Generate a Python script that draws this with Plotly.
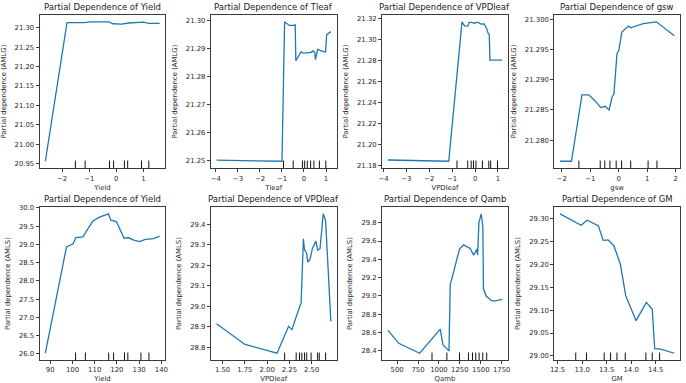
import plotly.graph_objects as go

# ---------------- data ----------------
features = ["Yield", "Tleaf", "VPDleaf", "gsw", "Yield", "VPDleaf", "Qamb", "GM"]
targets = ["AMLG", "AMLG", "AMLG", "AMLG", "AMLS", "AMLS", "AMLS", "AMLS"]

yield_g_x = [-2.62, -1.82, -1.2, -0.95, -0.28, -0.12, 0.2, 0.45, 1.0, 1.2, 1.6]
yield_g_y = [20.956, 21.313, 21.313, 21.315, 21.315, 21.310, 21.309, 21.312, 21.314, 21.311, 21.311]
yield_g_dec = [-1.51, -1.15, -0.25, -0.10, 0.30, 0.42, 0.93, 1.20]

tleaf_x = [-3.97, -1.0, -0.88, -0.67, -0.45, -0.40, -0.37, -0.13, -0.04, 0.33, 0.40, 0.49, 0.52, 0.62, 0.92, 0.98, 1.03, 1.22]
tleaf_y = [21.2500, 21.2496, 21.2994, 21.2981, 21.2981, 21.2985, 21.2855, 21.2887, 21.2882, 21.2885, 21.2890,
           21.2885, 21.2859, 21.2896, 21.2887, 21.2887, 21.2948, 21.2959]
tleaf_dec = [-0.93, -0.49, -0.07, 0.03, 0.15, 0.30, 0.45, 0.70, 0.99]

vpd_g_x = [-3.81, -1.15, -0.57, -0.46, -0.32, -0.26, -0.14, -0.03, 0.11, 0.26, 0.40, 0.50, 0.57, 0.62, 0.65, 1.18]
vpd_g_y = [21.1853, 21.1841, 21.3166, 21.3128, 21.3125, 21.3160, 21.3160, 21.3153, 21.3163, 21.3144, 21.3147,
           21.3106, 21.3059, 21.3044, 21.2803, 21.2803]
vpd_g_dec = [-0.79, -0.32, -0.17, -0.07, 0.04, 0.32, 0.60, 0.68, 0.98]

gsw_x = [-2.06, -1.66, -1.29, -1.05, -0.83, -0.63, -0.48, -0.34, -0.23, -0.17, -0.06, 0.0, 0.11, 0.34, 0.42, 0.86, 1.32, 1.95]
gsw_y = [21.2765, 21.2765, 21.2875, 21.2875, 21.2865, 21.2854, 21.2856, 21.2850, 21.2872, 21.2876, 21.2944,
         21.2948, 21.2979, 21.2989, 21.2986, 21.2993, 21.2996, 21.2973]
gsw_dec = [-1.40, -0.65, -0.49, -0.31, -0.09, 0.10, 0.42, 1.03, 1.34]

yield_s_x = [87.8, 97.3, 100.3, 101.5, 104.7, 109.1, 112.1, 116.2, 117.3, 118.0, 119.8, 123.2, 125.0, 127.6,
             130.1, 132.8, 136.5, 139.2]
yield_s_y = [26.02, 28.93, 29.02, 29.19, 29.21, 29.64, 29.75, 29.84, 29.66, 29.66, 29.62, 29.17, 29.19, 29.12,
             29.08, 29.14, 29.16, 29.23]
yield_s_dec = [101.4, 105.8, 116.3, 118.5, 123.4, 124.9, 130.8, 134.4]

vpd_s_x = [1.433, 1.752, 2.111, 2.241, 2.278, 2.333, 2.344, 2.370, 2.381, 2.407, 2.419, 2.444, 2.456, 2.481,
           2.507, 2.548, 2.567, 2.593, 2.630, 2.656, 2.715]
vpd_s_y = [28.915, 28.814, 28.771, 28.902, 28.886, 28.955, 28.979, 29.004, 29.012, 29.328, 29.276, 29.257,
           29.215, 29.228, 29.280, 29.317, 29.273, 29.280, 29.450, 29.418, 28.926]
vpd_s_dec = [2.196, 2.326, 2.363, 2.389, 2.419, 2.444, 2.493, 2.567, 2.585, 2.656]

qamb_x = [389, 520, 770, 1016, 1048, 1120, 1135, 1246, 1294, 1373, 1415, 1455, 1462, 1478, 1505, 1525, 1532,
          1565, 1625, 1665, 1755]
qamb_y = [28.625, 28.480, 28.371, 28.635, 28.462, 28.397, 29.120, 29.511, 29.558, 29.518, 29.446, 29.511,
          29.446, 29.80, 29.898, 29.757, 29.077, 28.997, 28.950, 28.943, 28.961]
qamb_dec = [917, 1095, 1246, 1353, 1401, 1440, 1480, 1524, 1571]

gm_x = [12.55, 12.98, 13.10, 13.33, 13.43, 13.53, 13.65, 13.78, 13.89, 14.10, 14.31, 14.43, 14.48, 14.60, 14.88]
gm_y = [29.310, 29.285, 29.296, 29.284, 29.252, 29.253, 29.240, 29.200, 29.131, 29.077, 29.117, 29.102,
        29.016, 29.015, 29.006]
gm_dec = [12.87, 13.09, 13.45, 13.58, 13.71, 13.88, 14.30, 14.43, 14.58]

# tick values
x_ticks = [[-2, -1, 0, 1], [-4, -3, -2, -1, 0, 1], [-4, -3, -2, -1, 0, 1], [-2, -1, 0, 1, 2],
           [90, 100, 110, 120, 130, 140], [1.50, 1.75, 2.00, 2.25, 2.50], [500, 750, 1000, 1250, 1500, 1750],
           [12.5, 13.0, 13.5, 14.0, 14.5]]
x_fmt = ["d", "d", "d", "d", "d", ".2f", "d", ".1f"]
y_ticks = [[20.95, 21.00, 21.05, 21.10, 21.15, 21.20, 21.25, 21.30],
           [21.25, 21.26, 21.27, 21.28, 21.29, 21.30],
           [21.18, 21.20, 21.22, 21.24, 21.26, 21.28, 21.30, 21.32],
           [21.280, 21.285, 21.290, 21.295, 21.300],
           [26.0, 26.5, 27.0, 27.5, 28.0, 28.5, 29.0, 29.5, 30.0],
           [28.8, 28.9, 29.0, 29.1, 29.2, 29.3, 29.4],
           [28.4, 28.6, 28.8, 29.0, 29.2, 29.4, 29.6, 29.8],
           [29.00, 29.05, 29.10, 29.15, 29.20, 29.25, 29.30]]
y_fmt = [".2f", ".2f", ".2f", ".3f", ".1f", ".1f", ".1f", ".2f"]

series = [(yield_g_x, yield_g_y, yield_g_dec), (tleaf_x, tleaf_y, tleaf_dec), (vpd_g_x, vpd_g_y, vpd_g_dec),
          (gsw_x, gsw_y, gsw_dec), (yield_s_x, yield_s_y, yield_s_dec), (vpd_s_x, vpd_s_y, vpd_s_dec),
          (qamb_x, qamb_y, qamb_dec), (gm_x, gm_y, gm_dec)]

# ---------------- layout ----------------
W, H = 686, 383
col_left = [36, 209, 382, 556]
col_w = 127
row_top = [13, 207]
row_h = 155

FONT = "DejaVu Sans"
AXC = "#3a3a3a"
TXT = "#2a2a2a"
TICK_FS = 6.9
LABEL_FS = 6.9
TITLE_FS = 8.5

fig = go.Figure()
layout = dict(width=W, height=H, margin=dict(l=0, r=0, t=0, b=0), paper_bgcolor="white",
              plot_bgcolor="white", showlegend=False, font=dict(family=FONT, color=TXT))
annotations = []
shapes = []


def padded(vals):
    lo, hi = min(vals), max(vals)
    p = (hi - lo) * 0.05
    return [lo - p, hi + p]


for i, (xs, ys, dec) in enumerate(series):
    r, c = divmod(i, 4)
    k = i + 1
    xa = "xaxis" if k == 1 else f"xaxis{k}"
    ya = "yaxis" if k == 1 else f"yaxis{k}"
    xr = "x" if k == 1 else f"x{k}"
    yr = "y" if k == 1 else f"y{k}"
    x0 = col_left[c] / W
    x1 = (col_left[c] + col_w) / W
    y1 = 1 - row_top[r] / H
    y0 = 1 - (row_top[r] + row_h) / H

    fig.add_trace(go.Scatter(x=xs, y=ys, mode="lines", line=dict(color="#1f77b4", width=1.3),
                             xaxis=xr, yaxis=yr, hoverinfo="skip"))

    common = dict(showline=True, mirror=True, linecolor=AXC, linewidth=1, ticks="outside", ticklen=3,
                  tickwidth=1, tickcolor=AXC, showgrid=False, zeroline=False, tickangle=0,
                  tickfont=dict(family=FONT, size=TICK_FS, color=TXT))
    layout[xa] = dict(common, domain=[x0, x1], anchor=yr, range=padded(xs), tickmode="array",
                      tickvals=x_ticks[i], tickformat=x_fmt[i],
                      title=dict(text=features[i], font=dict(family=FONT, size=LABEL_FS, color=TXT), standoff=3))
    layout[ya] = dict(common, domain=[y0, y1], anchor=xr, range=padded(ys), tickmode="array",
                      tickvals=y_ticks[i], tickformat=y_fmt[i],
                      title=dict(text=f"Partial dependence ({targets[i]})",
                                 font=dict(family=FONT, size=LABEL_FS, color=TXT), standoff=7))
    annotations.append(dict(text=f"Partial Dependence of {features[i]}", x=(x0 + x1) / 2, y=y1,
                            xref="paper", yref="paper", xanchor="center", yanchor="middle", yshift=8,
                            showarrow=False, font=dict(family=FONT, size=TITLE_FS, color="#222")))
    for d in dec:
        shapes.append(dict(type="line", xref=xr, yref=f"{yr} domain", x0=d, x1=d, y0=0, y1=0.05,
                           line=dict(color="#111", width=1)))

layout["annotations"] = annotations
layout["shapes"] = shapes
fig.update_layout(**layout)
fig.write_html("out.html")
